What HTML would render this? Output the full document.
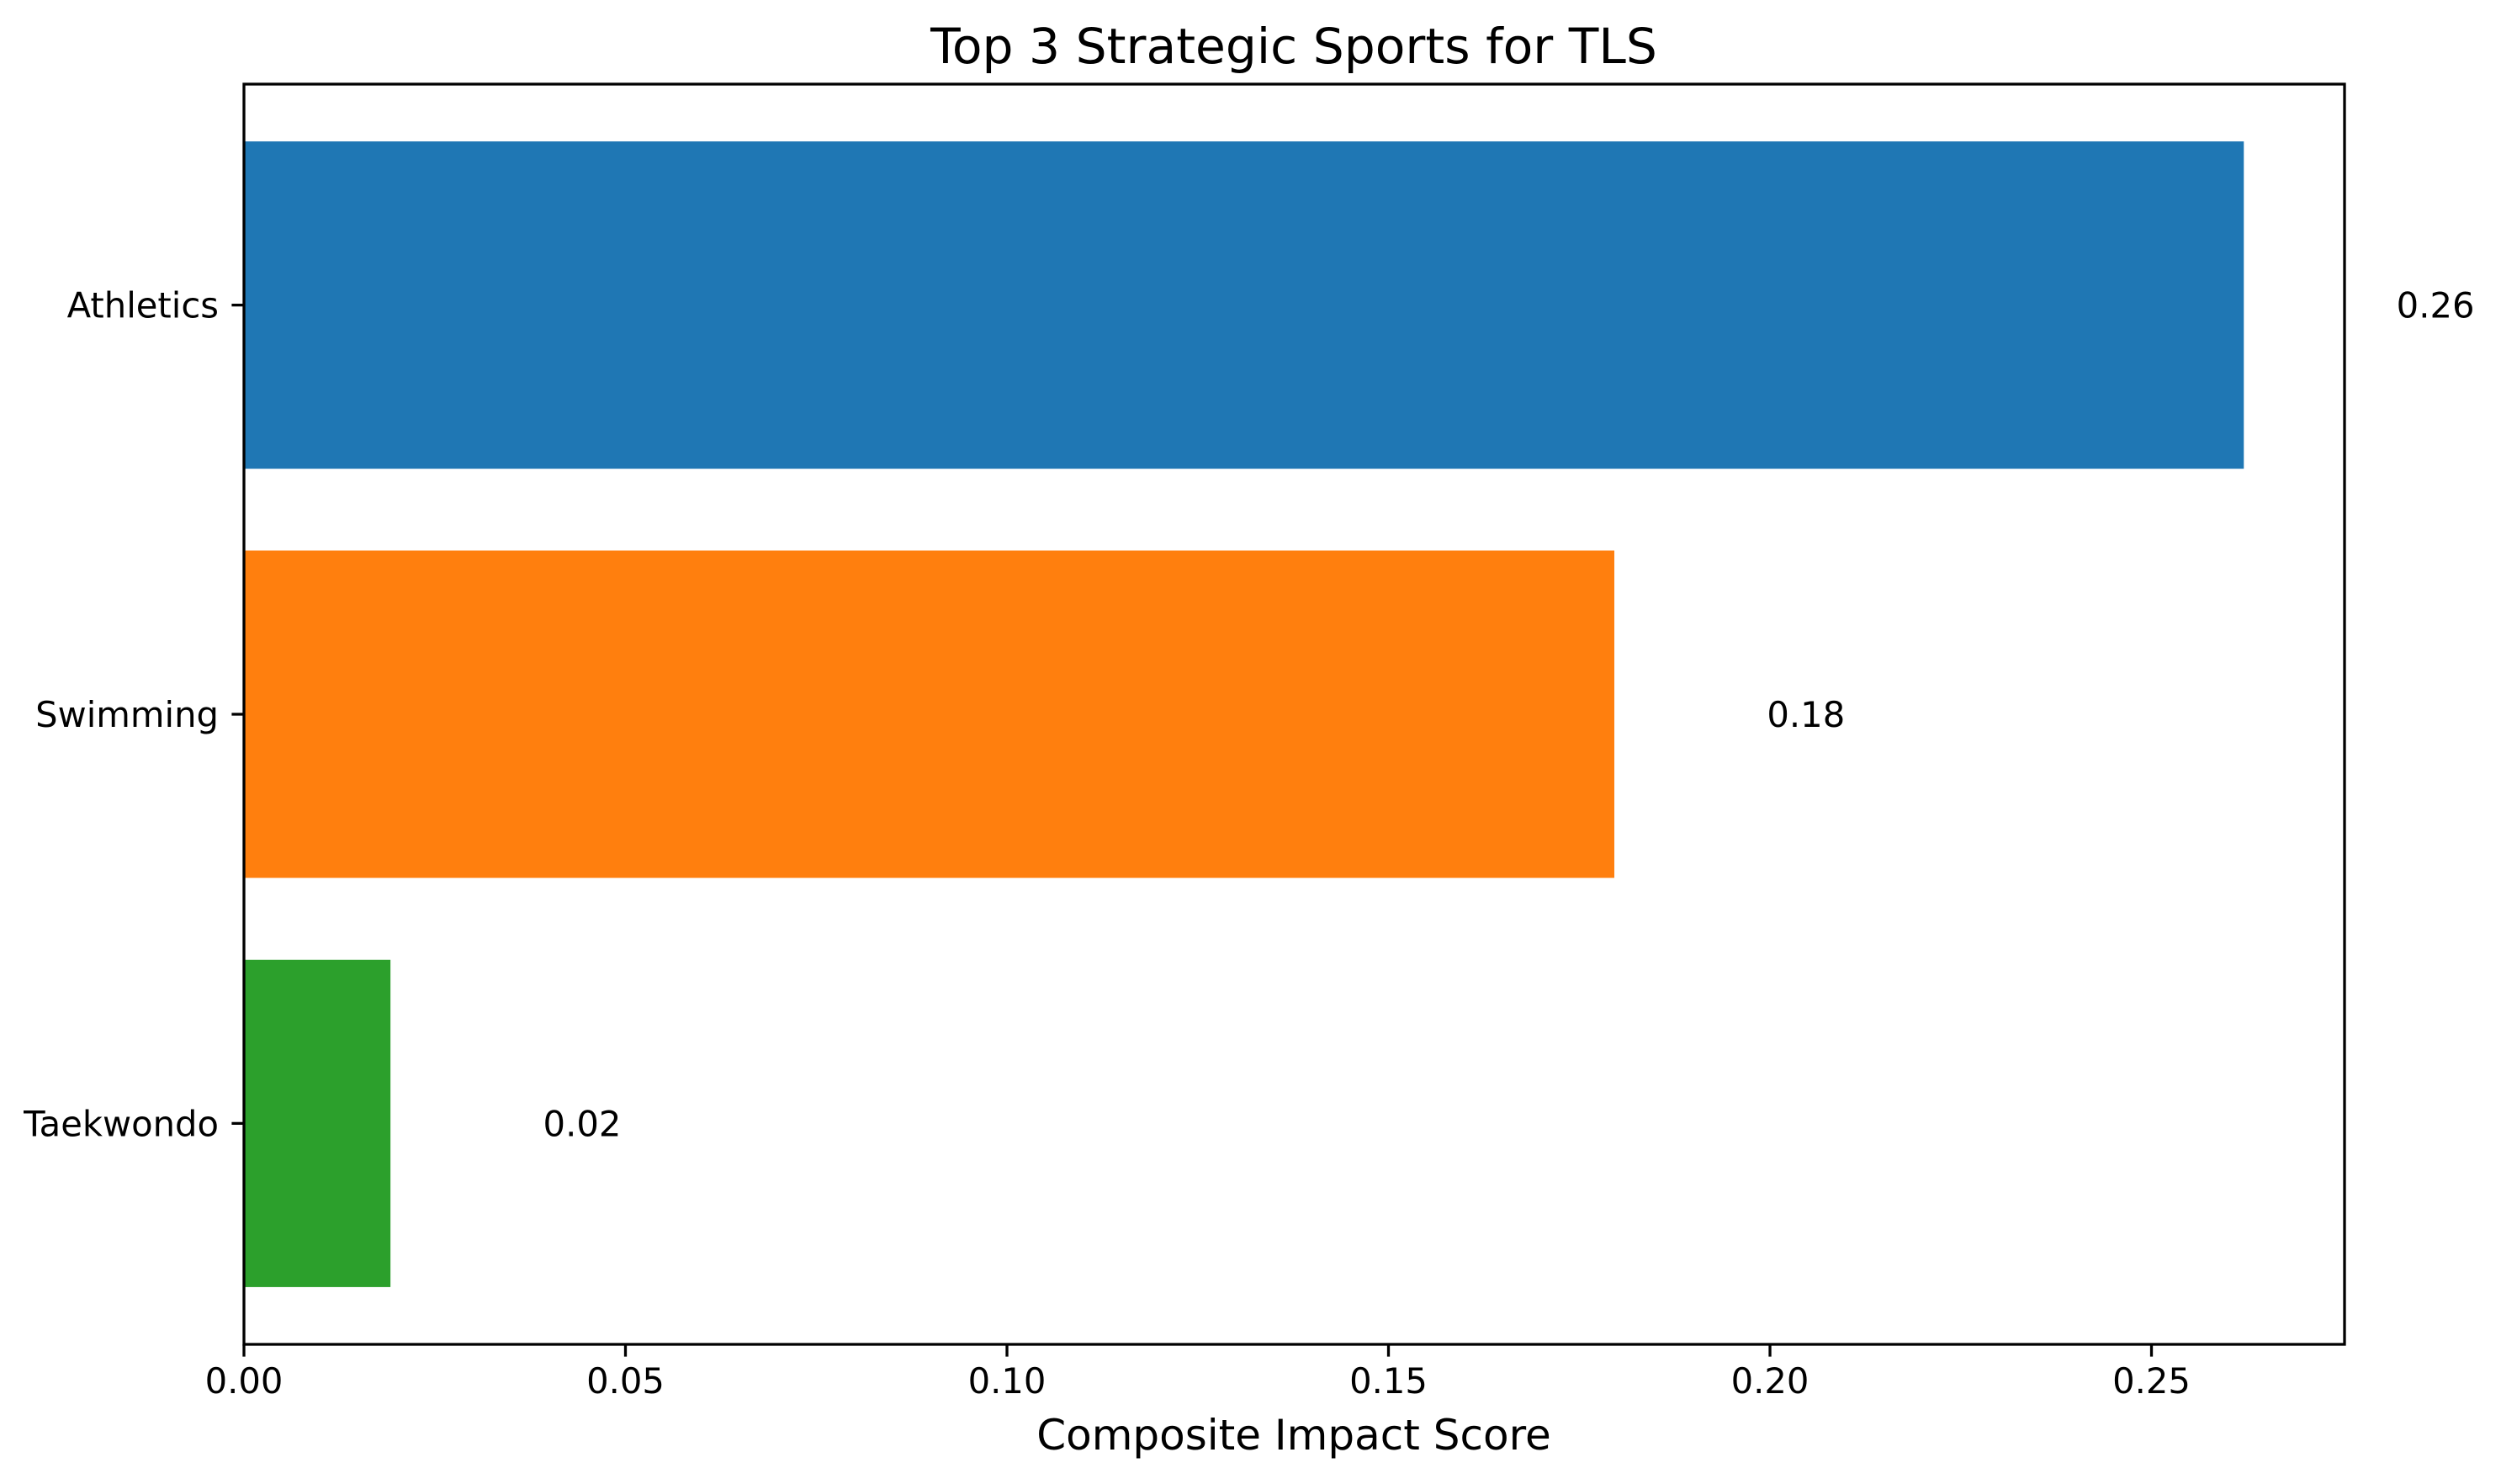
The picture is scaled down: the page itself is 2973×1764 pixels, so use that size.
<!DOCTYPE html>
<html><head><meta charset="utf-8"><style>
html,body{margin:0;padding:0;background:#fff;}
svg{display:block;font-family:"DejaVu Sans","Liberation Sans",sans-serif;}
</style></head><body>
<svg id="chart" width="2973" height="1764" viewBox="0 0 2973 1764">
<rect x="0" y="0" width="2973" height="1764" fill="#fff"/>
<text x="1538" y="75" font-size="58.3" text-anchor="middle" fill="#000">Top 3 Strategic Sports for TLS</text>
<text x="1538" y="1723" font-size="50" text-anchor="middle" fill="#000">Composite Impact Score</text>
<g id="bars"></g><g id="ticks"></g>
<rect x="290" y="100" width="2497" height="1498" fill="none" stroke="#000" stroke-width="3.3"/>
</svg>
<script>
const categories = ["Taekwondo","Swimming","Athletics"];
const values = [0.0192,0.1796,0.2621];
const colors = ["#2ca02c","#ff7f0e","#1f77b4"];
const xTicks = [0,0.05,0.10,0.15,0.20,0.25];
const xTickLabels = ["0.00","0.05","0.10","0.15","0.20","0.25"];
const L=290,R=2787,T=100,B=1598,xMax=0.2753,yMin=-0.54,yMax=2.54;
const xs=v=>L+(v/xMax)*(R-L);
const ys=v=>B-(v-yMin)/(yMax-yMin)*(B-T);
const NS="http://www.w3.org/2000/svg";
const gb=document.getElementById('bars'), gt=document.getElementById('ticks');
function mk(tag,attrs,parent){const e=document.createElementNS(NS,tag);for(const k in attrs)e.setAttribute(k,attrs[k]);parent.appendChild(e);return e;}
categories.forEach((c,i)=>{
  const r=mk('rect',{x:xs(0),y:ys(i+0.4),width:xs(values[i])-xs(0),height:ys(i-0.4)-ys(i+0.4),fill:colors[i]},gb);
  
  
  const t=mk('text',{x:xs(values[i]+0.02),y:ys(i)+15,'font-size':41.7,fill:'#000'},gb);
  t.textContent=values[i].toFixed(2);
  
  
  const tk=mk('line',{x1:L,x2:L-14.6,y1:ys(i),y2:ys(i),stroke:'#000','stroke-width':3.3},gt);
  
  
  const yl=mk('text',{x:L-30,y:ys(i)+15,'font-size':41.7,'text-anchor':'end',fill:'#000'},gt);
  yl.textContent=c;
  
  
});
xTicks.forEach((v,i)=>{
  const tk=mk('line',{x1:xs(v),x2:xs(v),y1:B,y2:B+14.6,stroke:'#000','stroke-width':3.3},gt);
  
  
  const t=mk('text',{x:xs(v),y:B+58,'font-size':41.7,'text-anchor':'middle',fill:'#000'},gt);
  t.textContent=xTickLabels[i];
  
  
});
</script>
</body></html>
